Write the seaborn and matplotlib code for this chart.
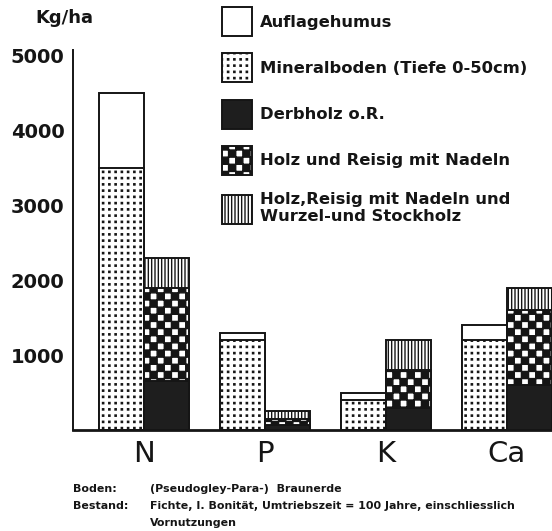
import warnings
import numpy as np
import pandas as pd
import matplotlib
matplotlib.use('Agg')
import matplotlib.pyplot as plt
import matplotlib.hatch as mhatch
from matplotlib.path import Path
from matplotlib.patches import Patch
import seaborn as sns

warnings.filterwarnings('ignore')

# Naehrstoffvorraete (Kg/ha)
elemente = ['N', 'P', 'K', 'Ca']
auflagehumus = [1000, 100, 100, 200]
mineralboden = [3500, 1200, 400, 1200]
derbholz = [650, 70, 300, 600]
holz_reisig = [1250, 80, 500, 1000]
wurzel_stockholz = [400, 100, 400, 300]

legend_labels = ['Auflagehumus',
                 'Mineralboden (Tiefe 0-50cm)',
                 'Derbholz o.R.',
                 'Holz und Reisig mit Nadeln',
                 'Holz,Reisig mit Nadeln und\nWurzel-und Stockholz']
seiten = ['Boden', 'Bestand']


# eigene Schraffuren: 'k' = Schachbrett, 'd' = Punktraster
class TileHatch(mhatch.HatchPatternBase):
    def __init__(self, hatch, density):
        self.squares = []
        if 'k' in hatch:
            n = 14
            for i in range(-1, n + 1):
                for j in range(-1, n + 1):
                    if (i + j) % 2 == 0:
                        self.squares.append(((i + 0.5) / n, (j + 0.5) / n, 0.5 / n))
        if 'd' in hatch:
            n = 16
            for i in range(n):
                for j in range(n):
                    self.squares.append(((i + 0.5) / n, (j + 0.5) / n, 0.1 / n))
        self.num_vertices = 5 * len(self.squares)

    def set_vertices_and_codes(self, vertices, codes):
        unit = np.array([[-1, -1], [1, -1], [1, 1], [-1, 1], [-1, -1]], float)
        for k, (cx, cy, h) in enumerate(self.squares):
            vertices[5 * k:5 * k + 5] = unit * h + (cx, cy)
            codes[5 * k:5 * k + 5] = [Path.MOVETO, Path.LINETO, Path.LINETO,
                                      Path.LINETO, Path.CLOSEPOLY]


mhatch._hatch_types.append(TileHatch)

sns.set_style('white')
plt.rcParams['font.family'] = ['DejaVu Sans']
plt.rcParams['hatch.linewidth'] = 1.0

ink = '#151515'
stile = {
    'auflage': dict(color='white', hatch=None),
    'mineral': dict(color='white', hatch='d'),
    'derb': dict(color='#1e1e1e', hatch=None),
    'holz': dict(color='white', hatch='k'),
    'wurzel': dict(color='white', hatch='|||||'),
}

fig = plt.figure(figsize=(5.52, 5.31), dpi=100)
ax = fig.add_axes([73 / 552, 101 / 531, 479 / 552, 380 / 531])

boden_oben = np.add(auflagehumus, mineralboden)
bestand_mitte = np.add(derbholz, holz_reisig)
bestand_oben = bestand_mitte + np.array(wurzel_stockholz)

# gestapelte Saeulen: oberste Summe zuerst, darunterliegende Schichten darueber
schichten = [
    ('Boden', boden_oben, 'auflage'),
    ('Boden', mineralboden, 'mineral'),
    ('Bestand', bestand_oben, 'wurzel'),
    ('Bestand', bestand_mitte, 'holz'),
    ('Bestand', derbholz, 'derb'),
]
for seite, werte, key in schichten:
    df = pd.DataFrame({'element': elemente, 'wert': werte, 'seite': seite})
    s = stile[key]
    sns.barplot(data=df, x='element', y='wert', hue='seite', hue_order=seiten,
                order=elemente, dodge=True, width=0.744, gap=0,
                palette={seite: s['color'], 'Boden' if seite == 'Bestand' else 'Bestand': 'white'},
                edgecolor=ink, linewidth=1.4, hatch=s['hatch'], saturation=1,
                legend=False, ax=ax)

ax.set_xlim(-0.587, 3.372)
ax.set_ylim(0, 5067)
ax.set_xlabel('')
ax.set_ylabel('')
ax.set_yticks([1000, 2000, 3000, 4000, 5000])
ax.set_yticklabels(['1000', '2000', '3000', '4000', '5000'], fontsize=14, fontweight='bold')
ax.tick_params(axis='y', length=5, width=1.4, color=ink, pad=1, labelcolor=ink)
ax.tick_params(axis='x', length=0, pad=7, labelsize=21, labelcolor=ink)
sns.despine(ax=ax, top=True, right=True)
ax.spines['left'].set_linewidth(1.4)
ax.spines['left'].set_color(ink)
ax.spines['bottom'].set_linewidth(2.0)
ax.spines['bottom'].set_color(ink)

fig.text(35 / 552, 1 - 18 / 531, 'Kg/ha', fontsize=13, fontweight='bold',
         va='center', ha='left', color=ink)

handles = [Patch(facecolor=stile[k]['color'], edgecolor=ink, linewidth=1.4,
                 hatch=stile[k]['hatch'])
           for k in ['auflage', 'mineral', 'derb', 'holz', 'wurzel']]
fig.legend(handles, legend_labels, loc='upper left',
           bbox_to_anchor=(222 / 552, 1 - 7 / 531), frameon=False,
           prop={'size': 11.8, 'weight': 'bold'}, handlelength=1.85, handleheight=2.35,
           labelspacing=1.05, handletextpad=0.45, borderpad=0, borderaxespad=0,
           labelcolor=ink)

fuss = dict(fontsize=7.9, fontweight='bold', va='center', ha='left', color=ink)
fig.text(73 / 552, 1 - 489 / 531, 'Boden:', **fuss)
fig.text(150 / 552, 1 - 489 / 531, '(Pseudogley-Para-)  Braunerde', **fuss)
fig.text(73 / 552, 1 - 506 / 531, 'Bestand:', **fuss)
fig.text(150 / 552, 1 - 506 / 531,
         'Fichte, I. Bonität, Umtriebszeit = 100 Jahre, einschliesslich', **fuss)
fig.text(150 / 552, 1 - 523 / 531, 'Vornutzungen', **fuss)

fig.savefig('out.png', dpi=100)
